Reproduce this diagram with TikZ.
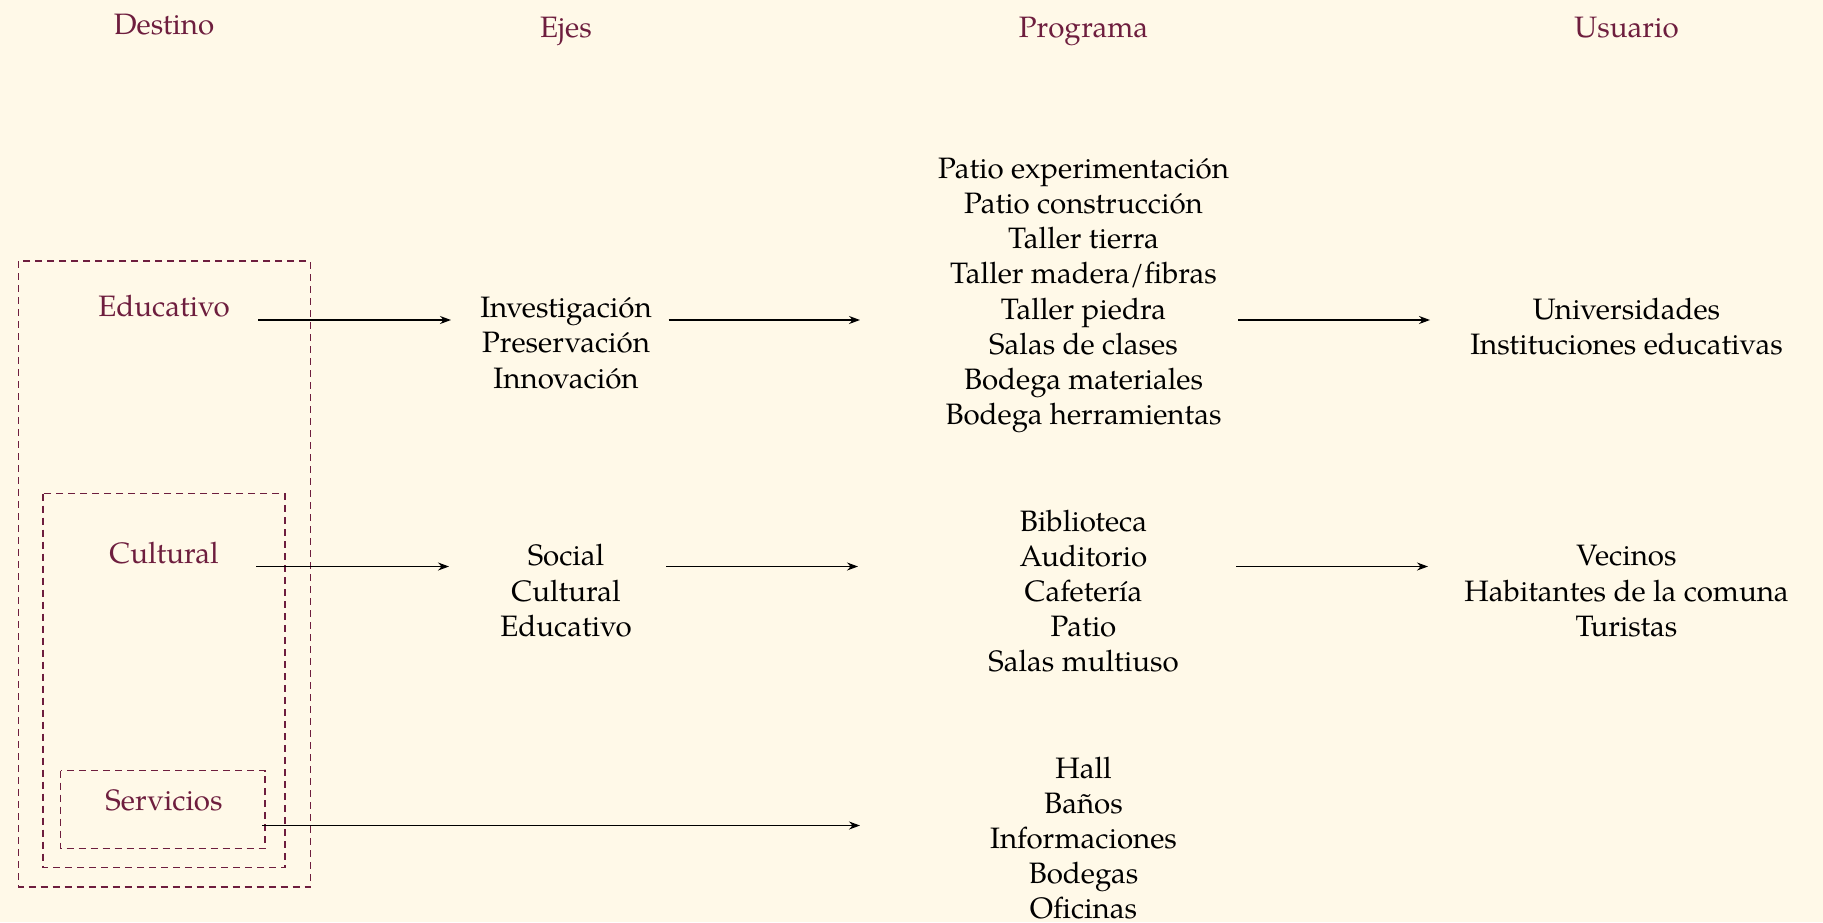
\documentclass[tikz,border=0pt]{standalone}
\usepackage{fontspec}
\setmainfont{TeX Gyre Pagella}
\usetikzlibrary{arrows.meta}
\definecolor{bg}{HTML}{FFF9E8}
\definecolor{maroon}{HTML}{6E1E3E}
\begin{document}
\begin{tikzpicture}[x=1pt,y=-1pt,
  every node/.style={font=\fontsize{29.5}{35.2}\selectfont, align=center, inner sep=0pt},
  hdr/.style={text=maroon},
  lst/.style={text=black},
  dbox/.style={draw=maroon, dash pattern=on 7pt off 5pt, line width=1.1pt},
  arr/.style={-{Stealth[length=11pt,width=8pt]}, line width=1.3pt, black}]
\fill[bg] (0,0) rectangle (1823,922);
\useasboundingbox (0,0) rectangle (1823,922);

% headers
\node[hdr, anchor=base] (hd) at (164,34) {Destino};
\node[hdr, anchor=base] (he) at (566,37) {Ejes};
\node[hdr, anchor=base] (hp) at (1083.5,37) {Programa};
\node[hdr, anchor=base] (hu) at (1626.5,37) {Usuario};

% destino labels
\node[hdr] (edu) at (164,306) {Educativo};
\node[hdr] (cul) at (164,553) {Cultural};
\node[hdr] (ser) at (164,800) {Servicios};

% dashed boxes
\draw[dbox] (18.6,261) rectangle (310.4,887);
\draw[dbox] (43,493.5) rectangle (285,867.5);
\draw[dbox] (60.5,770.5) rectangle (265,848.5);

% ejes
\node[lst] (e1) at (566,343) {Investigación\\Preservación\\Innovación};
\node[lst] (e2) at (566,590.6) {Social\\Cultural\\Educativo};

% programa
\node[lst] (p1) at (1083.5,295.5) {Patio experimentación\\Patio construcción\\Taller tierra\\Taller madera/fibras\\Taller piedra\\Salas de clases\\Bodega materiales\\Bodega herramientas};
\node[lst] (p2) at (1083.5,591) {Biblioteca\\Auditorio\\Cafetería\\Patio\\Salas multiuso};
\node[lst] (p3) at (1083.5,838) {Hall\\Baños\\Informaciones\\Bodegas\\Oficinas};

% usuario
\node[lst] (u1) at (1626.5,326.3) {Universidades\\Instituciones educativas};
\node[lst] (u2) at (1626.5,591.2) {Vecinos\\Habitantes de la comuna\\Turistas};

% arrow end points
\coordinate (a1s) at (258,320);   \coordinate (a1e) at (451,320);
\coordinate (a2s) at (668.5,320); \coordinate (a2e) at (860,320);
\coordinate (a3s) at (1238,320);  \coordinate (a3e) at (1430,320);
\coordinate (b1s) at (256,566.5); \coordinate (b1e) at (449,566.5);
\coordinate (b2s) at (666,566.5); \coordinate (b2e) at (858,566.5);
\coordinate (b3s) at (1236,566.5);\coordinate (b3e) at (1428,566.5);
\coordinate (c1s) at (262,825.5); \coordinate (c1e) at (860,825.5);

\draw[arr] (a1s) -- (a1e);
\draw[arr] (a2s) -- (a2e);
\draw[arr] (a3s) -- (a3e);
\draw[arr] (b1s) -- (b1e);
\draw[arr] (b2s) -- (b2e);
\draw[arr] (b3s) -- (b3e);
\draw[arr] (c1s) -- (c1e);
\end{tikzpicture}
\end{document}
